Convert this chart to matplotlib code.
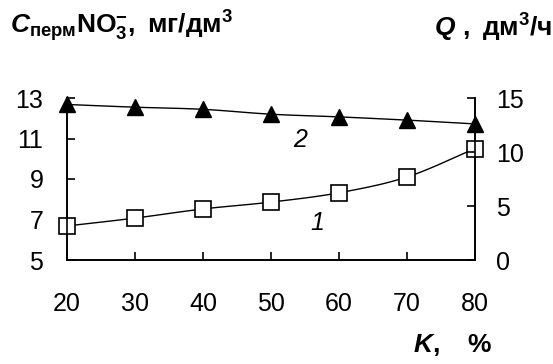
import numpy as np
import matplotlib.pyplot as plt

plt.rcParams['font.family'] = ['Liberation Sans', 'DejaVu Sans']
plt.rcParams['mathtext.fontset'] = 'custom'
plt.rcParams['mathtext.rm'] = 'Liberation Sans:bold'
plt.rcParams['mathtext.bf'] = 'Liberation Sans:bold'
plt.rcParams['mathtext.it'] = 'Liberation Sans:italic:bold'

K = [20, 30, 40, 50, 60, 70, 80]
C_no3 = [6.68, 7.07, 7.52, 7.86, 8.32, 9.1, 10.5]
Q = [14.4, 14.15, 13.95, 13.5, 13.25, 12.95, 12.6]


def smooth(x, y, n=20):
    # catmull-rom curve through the points, like excel's smoothed line
    x = np.asarray(x, float)
    y = np.asarray(y, float)
    px = np.concatenate([[2 * x[0] - x[1]], x, [2 * x[-1] - x[-2]]])
    py = np.concatenate([[2 * y[0] - y[1]], y, [2 * y[-1] - y[-2]]])
    xs, ys = [], []
    t = np.linspace(0, 1, n)
    for i in range(1, len(px) - 2):
        for p, out in ((px, xs), (py, ys)):
            p0, p1, p2, p3 = p[i - 1], p[i], p[i + 1], p[i + 2]
            out.extend(0.5 * (2 * p1 + (-p0 + p2) * t
                              + (2 * p0 - 5 * p1 + 4 * p2 - p3) * t ** 2
                              + (-p0 + 3 * p1 - 3 * p2 + p3) * t ** 3))
    return xs, ys


fig = plt.figure(figsize=(5.53, 3.64), dpi=100)
ax = fig.add_axes([67 / 553, 104 / 364, 408 / 553, 162 / 364])
ax2 = ax.twinx()

sx, sy = smooth(K, C_no3)
ax.plot(sx, sy, color='black', lw=1)
ax.plot(K, C_no3, ls='none', marker='s', ms=11, mfc='white', mec='black', mew=1.2, clip_on=False, zorder=5)

qx, qy = smooth(K, Q)
ax2.plot(qx, qy, color='black', lw=1)
ax2.plot(K, Q, ls='none', marker='^', ms=12, color='black', clip_on=False, zorder=5)

ax.set_xlim(20, 80)
ax.set_ylim(5, 13)
ax2.set_ylim(0, 15)
ax.set_xticks(K)
ax.set_yticks([5, 7, 9, 11, 13])
ax2.set_yticks([0, 5, 10, 15])

ax.spines['top'].set_visible(False)
ax2.spines['top'].set_visible(False)
for a in (ax, ax2):
    for s in a.spines.values():
        s.set_linewidth(1.2)
ax.tick_params(axis='x', direction='in', length=6, width=1.2, pad=23, labelsize=18)
ax.tick_params(axis='y', direction='in', length=6, width=1.2, pad=17, labelsize=18)
ax2.tick_params(axis='y', direction='in', length=6, width=1.2, pad=15, labelsize=18)

ax.text(56.8, 6.85, '1', fontsize=18, style='italic', ha='center', va='center')
ax.text(54.3, 10.95, '2', fontsize=18, style='italic', ha='center', va='center')

fig.text(10 / 553, 1 - 26 / 364, r'$\mathit{C}_{\mathrm{перм}}\mathrm{NO}_{3}^{-}\mathrm{,\ мг/дм}^{3}$',
         fontsize=19, ha='left', va='center')
fig.text(552 / 553, 1 - 28 / 364, r'$\mathit{Q}\mathrm{\ ,\ дм}^{3}\mathrm{/ч}$',
         fontsize=19, ha='right', va='center')
fig.text(492 / 553, 1 - 345 / 364, r'$\mathit{K}\mathrm{,\ \ \ \%}$',
         fontsize=19, ha='right', va='center')

fig.savefig('out.png', dpi=100)
